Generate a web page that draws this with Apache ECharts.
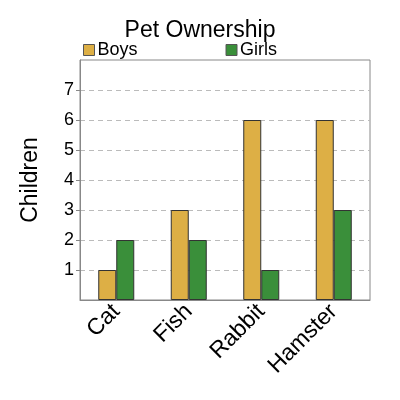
<!DOCTYPE html>
<html>
<head>
<meta charset="utf-8">
<script src="https://cdn.jsdelivr.net/npm/echarts@6/dist/echarts.min.js"></script>
<style>
  html, body { margin: 0; padding: 0; background: #fff; }
  #chart { width: 400px; height: 400px; }
</style>
</head>
<body>
<div id="chart"></div>
<script>
// data
const pets = ['Cat', 'Fish', 'Rabbit', 'Hamster']
const boys = [1, 3, 6, 6]
const girls = [2, 2, 1, 3]
const yTicks = [1, 2, 3, 4, 5, 6, 7]

const font = 'Liberation Sans, Arial, sans-serif'

const myChart = echarts.init(document.getElementById('chart'))

const option = {
    animation: false,
    title: {
        text: 'Pet Ownership',
        left: 'center',
        top: 14,
        textStyle: { fontFamily: font, fontSize: 23, fontWeight: 'normal', color: '#000' }
    },
    legend: {
        data: ['Boys', 'Girls'],
        top: 36,
        left: 78,
        itemGap: 88,
        itemWidth: 11,
        itemHeight: 11,
        icon: 'rect',
        itemStyle: { borderColor: '#555', borderWidth: 1 },
        textStyle: { fontFamily: font, fontSize: 18, color: '#000', padding: [0, 0, 0, -2] }
    },
    grid: {
        left: 80,
        right: 30,
        top: 60,
        bottom: 100,
        show: true,
        borderColor: '#888',
        borderWidth: 1
    },
    xAxis: {
        type: 'category',
        data: pets,
        axisLine: { lineStyle: { color: '#888' } },
        axisTick: { show: false },
        axisLabel: {
            rotate: 45,
            fontFamily: font,
            fontSize: 23,
            color: '#000',
            margin: 8
        }
    },
    yAxis: {
        type: 'value',
        min: 0,
        max: 8,
        interval: 1,
        name: 'Children',
        nameLocation: 'middle',
        nameGap: 38,
        nameTextStyle: { fontFamily: font, fontSize: 23, color: '#000' },
        axisLine: { show: true, lineStyle: { color: '#888' } },
        axisTick: {
            show: true,
            length: 4,
            lineStyle: { color: '#888' },
            customValues: yTicks
        },
        axisLabel: {
            fontFamily: font,
            fontSize: 18,
            color: '#000',
            margin: 6,
            customValues: yTicks
        },
        splitLine: {
            lineStyle: { color: '#bbb', type: [5, 4], width: 1.2 }
        }
    },
    series: [
        {
            name: 'Boys',
            type: 'bar',
            data: boys,
            barWidth: 18,
            barGap: '0%',
            itemStyle: { color: '#DDAF45', borderColor: '#333', borderWidth: 1 }
        },
        {
            name: 'Girls',
            type: 'bar',
            data: girls,
            barWidth: 18,
            itemStyle: { color: '#3A8F3A', borderColor: '#333', borderWidth: 1 }
        }
    ]
}

option && myChart.setOption(option, true)
</script>
</body>
</html>
